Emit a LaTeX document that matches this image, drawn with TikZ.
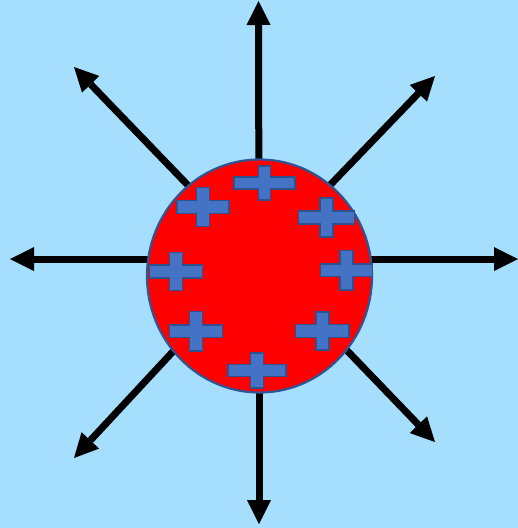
\documentclass[tikz,border=0pt]{standalone}
\usetikzlibrary{arrows.meta}
\definecolor{bgblue}{RGB}{166,222,253}
\definecolor{ballred}{RGB}{255,0,0}
\definecolor{ballrim}{RGB}{47,85,151}
\definecolor{plusfill}{RGB}{68,114,196}
\definecolor{plusrim}{RGB}{47,82,143}
\tikzset{
  ray/.style={line width=7pt, black, -{Triangle[length=24pt,width=24pt,line width=0pt]}},
  ballstyle/.style={fill=ballred, draw=ballrim, line width=2.2pt},
  plusstyle/.style={fill=plusfill, draw=plusrim, line width=1.5pt, line join=miter},
  pics/plussign/.style n args={4}{code={
    \path[plusstyle] (-#1,-#2) -- (-#3,-#2) -- (-#3,-#4) -- (#3,-#4) -- (#3,-#2) -- (#1,-#2)
      -- (#1,#2) -- (#3,#2) -- (#3,#4) -- (-#3,#4) -- (-#3,#2) -- (-#1,#2) -- cycle;
  }}
}
\begin{document}
\begin{tikzpicture}[x=1pt,y=-1pt]
\fill[bgblue] (0,0) rectangle (518,528);
\useasboundingbox (0,0) rectangle (518,528);
\coordinate (ctr) at (259,259);
\coordinate (tipU) at (258.5,1);
\coordinate (tipD) at (259,524);
\coordinate (tipL) at (10,259);
\coordinate (tipR) at (518,259);
\coordinate (tipUL) at (74,67);
\coordinate (tipUR) at (435,76);
\coordinate (tipDR) at (435,442);
\coordinate (tipDL) at (74,458);
\draw[ray] (ctr) -- (tipU);
\draw[ray] (ctr) -- (tipD);
\draw[ray] (ctr) -- (tipL);
\draw[ray] (ctr) -- (tipR);
\draw[ray] (ctr) -- (tipUL);
\draw[ray] (ctr) -- (tipUR);
\draw[ray] (ctr) -- (tipDR);
\draw[ray] (ctr) -- (tipDL);
\path[ballstyle] (259.5,276) ellipse [x radius=112.5, y radius=116.5];
\pic at (264.5,183) {plussign={30.5}{6}{6}{17}};
\pic at (203,207) {plussign={26}{6.3}{6.5}{19.5}};
\pic at (326.5,217.5) {plussign={28}{6.5}{6.3}{19.5}};
\pic at (176,271.5) {plussign={26.7}{6.5}{6.7}{19.2}};
\pic at (346.5,270.3) {plussign={26.2}{6.3}{6.7}{19.7}};
\pic at (196,331.3) {plussign={26.7}{6.3}{6.7}{19.7}};
\pic at (322.3,331) {plussign={26.8}{6.3}{6.5}{19.2}};
\pic at (257,370.5) {plussign={29}{6.2}{6.3}{17.5}};
\end{tikzpicture}
\end{document}
